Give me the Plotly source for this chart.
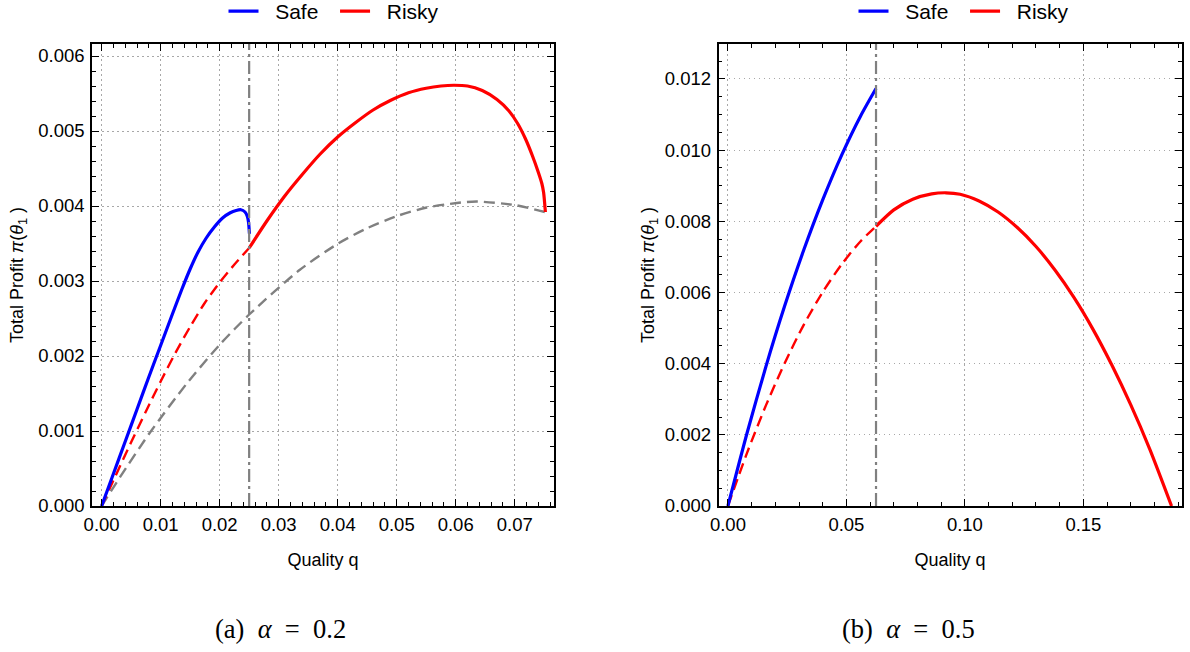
import plotly.graph_objects as go

# ---------------- data ----------------
# Panel (a) alpha = 0.2
a_threshold = 0.025
a_safe_q = [0, 0.002, 0.004, 0.006, 0.008, 0.010, 0.012, 0.0136, 0.015, 0.0163, 0.0177, 0.0191,
            0.0205, 0.0218, 0.0228, 0.0236, 0.0243, 0.0247, 0.0249, 0.02505]
a_safe_v = [0, 0.00043, 0.00086, 0.00129, 0.00172, 0.00214, 0.00256, 0.00289, 0.00316, 0.00338, 0.00357, 0.00372,
            0.00384, 0.00391, 0.00394, 0.00395, 0.00392, 0.00386, 0.00378, 0.00363]
a_risky_dash_q = [0, 0.0024, 0.0050, 0.0075, 0.0100, 0.0125, 0.0150, 0.0175, 0.0200, 0.0225, 0.0250]
a_risky_dash_v = [0, 0.00041, 0.00085, 0.00126, 0.00166, 0.00204, 0.00239, 0.00271, 0.00298, 0.00322, 0.00344]
a_risky_q = [0.025, 0.028, 0.031, 0.034, 0.037, 0.040, 0.043, 0.046, 0.049, 0.052, 0.055, 0.0575,
             0.0597, 0.062, 0.0645, 0.067, 0.069, 0.0705, 0.0718, 0.073, 0.074, 0.0746, 0.0749, 0.0752]
a_risky_v = [0.00344, 0.00380, 0.00413, 0.00442, 0.00469, 0.00492, 0.00511, 0.00528, 0.00541, 0.00551, 0.00557, 0.00560,
             0.00561, 0.00560, 0.00554, 0.00542, 0.00527, 0.00510, 0.00490, 0.00467, 0.00445, 0.00430, 0.00418, 0.00392]
a_gray_q = [0, 0.0030, 0.0082, 0.0145, 0.0200, 0.0251, 0.0336, 0.0401, 0.0449, 0.0502, 0.0551, 0.0602, 0.0636, 0.0702, 0.0751]
a_gray_v = [0, 0.00037, 0.00098, 0.00164, 0.00215, 0.00256, 0.00315, 0.00350, 0.00370, 0.00387, 0.00398, 0.00404, 0.00406, 0.00401, 0.00392]

# Panel (b) alpha = 0.5
b_threshold = 0.0625
b_safe_q = [0, 0.008, 0.016, 0.024, 0.032, 0.040, 0.048, 0.056, 0.0625]
b_safe_v = [0, 0.00203, 0.00391, 0.00563, 0.00719, 0.00860, 0.00986, 0.01096, 0.01173]
b_risky_dash_q = [0, 0.008, 0.016, 0.024, 0.032, 0.040, 0.048, 0.056, 0.0625]
b_risky_dash_v = [0, 0.00148, 0.00282, 0.00402, 0.00509, 0.00601, 0.00679, 0.00744, 0.00786]
b_risky_q = [0.0625, 0.070, 0.078, 0.086, 0.092, 0.098, 0.106, 0.114, 0.122, 0.130, 0.138, 0.146,
             0.154, 0.162, 0.170, 0.178, 0.1872]
b_risky_v = [0.00786, 0.00832, 0.00862, 0.00877, 0.00880, 0.00876, 0.00857, 0.00826, 0.00783, 0.00729, 0.00663, 0.00586,
             0.00497, 0.00396, 0.00284, 0.00160, 0.0]

a_xticks = [0, 0.01, 0.02, 0.03, 0.04, 0.05, 0.06, 0.07]
a_yticks = [0, 0.001, 0.002, 0.003, 0.004, 0.005, 0.006]
b_xticks = [0, 0.05, 0.10, 0.15]
b_yticks = [0, 0.002, 0.004, 0.006, 0.008, 0.010, 0.012]

series_names = ["Safe", "Risky"]
captions = ["(a)&nbsp; <i>α</i>&nbsp; =&nbsp; 0.2", "(b)&nbsp; <i>α</i>&nbsp; =&nbsp; 0.5"]
x_title = "Quality q"
y_title = "Total Profit <i>π</i>(<i>θ</i><sub>1</sub> )"

# ---------------- styling ----------------
W, H = 1190, 652
BLUE, RED, GRAY = "#0000ff", "#ff0000", "#808080"
SANS = "Liberation Sans, Arial, sans-serif"
SOLID_W, DASH_W = 3.2, 2.4
DASH = "11px,6px"
SM = 0.7

fig = go.Figure()

def add_panel(xa, ya, leg, sq, sv, rdq, rdv, rq, rv, gq=None, gv=None):
    if gq is not None:
        fig.add_trace(go.Scatter(x=gq, y=gv, xaxis=xa, yaxis=ya, mode="lines",
                                 line=dict(color=GRAY, width=DASH_W, dash=DASH, shape="spline", smoothing=SM),
                                 showlegend=False, hoverinfo="skip"))
    fig.add_trace(go.Scatter(x=rdq, y=rdv, xaxis=xa, yaxis=ya, mode="lines",
                             line=dict(color=RED, width=DASH_W, dash=DASH, shape="spline", smoothing=SM),
                             showlegend=False, hoverinfo="skip"))
    fig.add_trace(go.Scatter(x=sq, y=sv, xaxis=xa, yaxis=ya, mode="lines",
                             name="&nbsp;&nbsp;" + series_names[0] + "&nbsp;&nbsp;", legend=leg,
                             line=dict(color=BLUE, width=SOLID_W, shape="spline", smoothing=SM)))
    fig.add_trace(go.Scatter(x=rq, y=rv, xaxis=xa, yaxis=ya, mode="lines",
                             name="&nbsp;&nbsp;" + series_names[1], legend=leg,
                             line=dict(color=RED, width=SOLID_W, shape="spline", smoothing=SM)))

add_panel("x", "y", "legend", a_safe_q, a_safe_v, a_risky_dash_q, a_risky_dash_v,
          a_risky_q, a_risky_v, a_gray_q, a_gray_v)
add_panel("x2", "y2", "legend2", b_safe_q, b_safe_v, b_risky_dash_q, b_risky_dash_v,
          b_risky_q, b_risky_v)

# threshold lines
for xref, yref, thr in (("x", "y domain", a_threshold), ("x2", "y2 domain", b_threshold)):
    fig.add_shape(type="line", xref=xref, yref=yref, x0=thr, x1=thr, y0=0, y1=1,
                  line=dict(color=GRAY, width=2.2, dash="13px,4px,3px,4px"), layer="above")

GRID = dict(showgrid=True, gridcolor="#a8a8a8", griddash="1.5px,3.5px", gridwidth=1.3, zeroline=False)

def common(minor):
    return dict(showline=True, linecolor="black", linewidth=1.6, mirror="ticks",
                ticks="inside", ticklen=7, tickwidth=1.2, tickcolor="black",
                minor=dict(ticks="inside", ticklen=4, tickwidth=1, tickcolor="black",
                           dtick=minor, tick0=0, showgrid=False),
                tickfont=dict(family=SANS, size=18.5, color="black"), automargin=False, **GRID)

def xaxis(domain, rng, ticks, fmt, minor, anchor):
    return dict(domain=domain, range=rng, tickvals=ticks, tickformat=fmt, anchor=anchor,
                ticklabelstandoff=1, **common(minor),
                title=dict(text=x_title, font=dict(family=SANS, size=18, color="black"), standoff=19))

def yaxis(domain, rng, ticks, fmt, minor, anchor, standoff):
    return dict(domain=domain, range=rng, tickvals=ticks, tickformat=fmt, anchor=anchor,
                ticklabelstandoff=2, **common(minor),
                title=dict(text=y_title, font=dict(family=SANS, size=18, color="black"), standoff=standoff))

y_dom = [1 - 506 / H, 1 - 44 / H]
LEG = dict(orientation="h", xanchor="center", y=1 + 9 / H, yanchor="top",
           font=dict(family=SANS, size=21, color="black"), bgcolor="rgba(0,0,0,0)")
fig.update_layout(
    width=W, height=H, margin=dict(l=0, r=0, t=0, b=0, autoexpand=False),
    paper_bgcolor="white", plot_bgcolor="white",
    xaxis=xaxis([92 / W, 554 / W], [-0.00163, 0.07666], a_xticks, ".2f", 0.002, "y"),
    yaxis=yaxis(y_dom, [0, 0.00616], a_yticks, ".3f", 0.0002, "x", 10),
    xaxis2=xaxis([718.5 / W, 1181.5 / W], [-0.00397, 0.1914], b_xticks, ".2f", 0.01, "y2"),
    yaxis2=yaxis(y_dom, [0, 0.01298], b_yticks, ".3f", 0.0005, "x2", 5),
    legend=dict(LEG, x=334 / W),
    legend2=dict(LEG, x=964 / W),
    annotations=[
        dict(text=captions[0], x=280 / W, y=1 - 629 / H, xref="paper", yref="paper",
             showarrow=False, xanchor="center", yanchor="middle",
             font=dict(family="Liberation Serif, DejaVu Serif, serif", size=26.5, color="black")),
        dict(text=captions[1], x=908 / W, y=1 - 629 / H, xref="paper", yref="paper",
             showarrow=False, xanchor="center", yanchor="middle",
             font=dict(family="Liberation Serif, DejaVu Serif, serif", size=26.5, color="black")),
    ],
)

fig.write_html("out.html", config={"displayModeBar": False},
               post_script="document.body.style.margin='0';document.body.style.overflow='hidden';")
